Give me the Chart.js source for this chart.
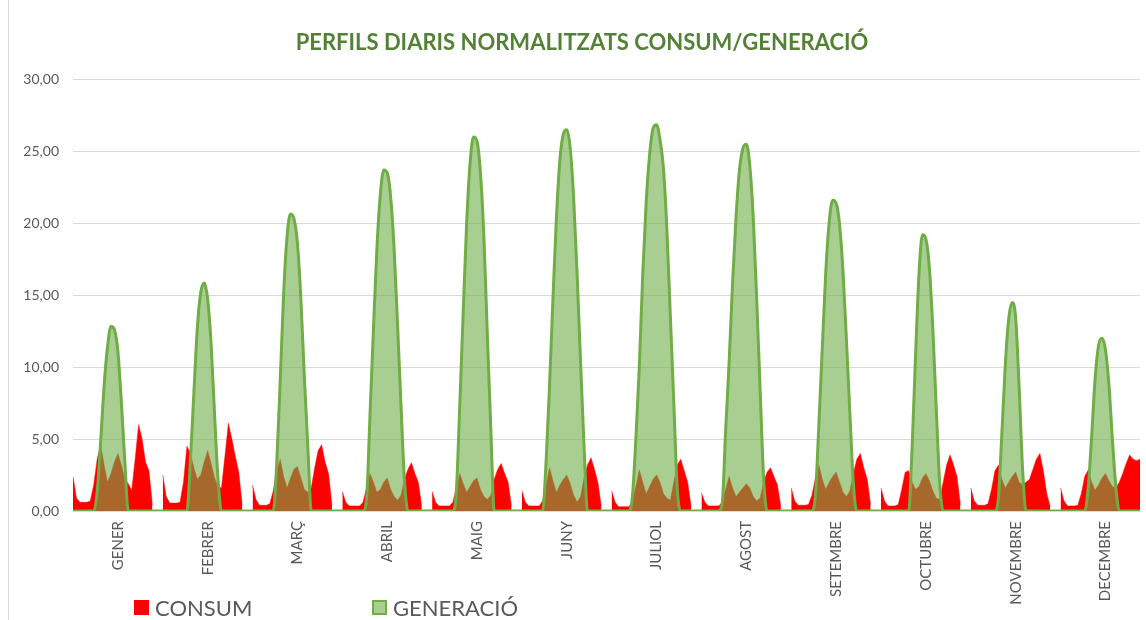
<!DOCTYPE html>
<html>
<head>
<meta charset="utf-8">
<script src="https://cdn.jsdelivr.net/npm/chart.js@4.4.1/dist/chart.umd.min.js"></script>
<style>
  html, body { margin: 0; padding: 0; background: #ffffff; }
  #wrap { position: relative; width: 1146px; height: 620px; overflow: hidden; background: #ffffff; }
  #c { position: absolute; left: 0; top: 0; }
  #frame { position: absolute; left: 8px; top: 0; width: 1px; height: 620px; background: #d9d9d9; }
  .lg-item { position: absolute; top: 595px; height: 24px; display: flex; align-items: center;
             font-family: Lato, "Open Sans", sans-serif; font-size: 22px; color: #595959; white-space: nowrap; }
  .lg-box { display: inline-block; box-sizing: border-box; width: 15px; height: 15px; margin-right: 6px; }
</style>
</head>
<body>
<div id="wrap">
  <canvas id="c" width="1146" height="620"></canvas>
  <div id="frame"></div>
  <div id="legend"></div>
</div>
<script>
// ---- categories / tick labels ----
const months = ["GENER","FEBRER","MARÇ","ABRIL","MAIG","JUNY","JULIOL","AGOST","SETEMBRE","OCTUBRE","NOVEMBRE","DECEMBRE"];
const hoursPerDay = 24;
const blankRowsBetweenMonths = 2;
const labelRow = 13;

// ---- CONSUM: normalized hourly profile per month (h0..h23) ----
const consumGener    = [2.4, 0.9, 0.6, 0.6, 0.6, 0.7, 1.8, 3.6, 4.6, 3.2, 2.0, 2.6, 3.4, 4.0, 3.2, 2.2, 1.9, 1.4, 3.6, 6.0, 5.0, 3.4, 2.8, 0.4];
const consumFebrer   = [2.5, 1.0, 0.55, 0.55, 0.55, 0.6, 2.0, 4.5, 4.0, 3.0, 2.2, 2.5, 3.4, 4.2, 3.3, 2.3, 1.7, 1.6, 3.8, 6.1, 5.0, 3.8, 2.7, 0.4];
const consumMarc     = [1.8, 0.8, 0.4, 0.4, 0.4, 0.5, 1.4, 2.8, 3.6, 2.4, 1.6, 2.3, 2.9, 3.1, 2.3, 1.5, 1.3, 1.6, 3.0, 4.2, 4.6, 3.4, 2.6, 0.4];
const consumAbril    = [1.35, 0.6, 0.35, 0.35, 0.35, 0.35, 0.6, 1.6, 2.6, 2.0, 1.3, 1.5, 2.0, 2.3, 1.5, 1.0, 0.75, 1.1, 2.2, 2.9, 3.35, 2.6, 2.0, 0.3];
const consumMaig     = [1.35, 0.6, 0.35, 0.35, 0.35, 0.35, 0.6, 1.6, 2.6, 1.9, 1.3, 1.7, 2.1, 2.3, 1.5, 1.0, 0.8, 1.1, 2.2, 2.9, 3.3, 2.6, 2.0, 0.3];
const consumJuny     = [1.4, 0.6, 0.35, 0.35, 0.35, 0.35, 0.7, 1.8, 3.0, 2.1, 1.3, 1.8, 2.2, 2.5, 1.9, 1.1, 0.6, 1.0, 2.3, 3.2, 3.7, 2.9, 2.0, 0.3];
const consumJuliol   = [1.4, 0.6, 0.3, 0.3, 0.3, 0.3, 0.7, 1.7, 2.85, 2.0, 1.2, 1.7, 2.2, 2.5, 2.0, 1.2, 0.9, 0.75, 2.0, 3.2, 3.6, 2.8, 2.0, 0.3];
const consumAgost    = [1.25, 0.6, 0.35, 0.35, 0.35, 0.35, 0.6, 1.5, 2.4, 1.6, 1.0, 1.3, 1.6, 1.9, 1.6, 1.0, 0.7, 0.9, 2.0, 2.7, 3.0, 2.4, 1.8, 0.3];
const consumSetembre = [1.6, 0.7, 0.4, 0.4, 0.4, 0.45, 1.1, 2.3, 3.2, 2.2, 1.5, 2.0, 2.4, 2.7, 2.0, 1.3, 1.0, 1.4, 2.6, 3.6, 4.0, 3.0, 2.2, 0.4];
const consumOctubre  = [1.6, 0.7, 0.35, 0.35, 0.35, 0.45, 1.5, 2.7, 2.8, 2.0, 1.5, 1.7, 2.3, 2.6, 2.1, 1.4, 0.9, 0.8, 2.0, 3.2, 3.9, 3.2, 2.4, 0.4];
const consumNovembre = [1.6, 0.7, 0.4, 0.4, 0.4, 0.5, 1.5, 2.8, 3.2, 2.2, 1.6, 2.0, 2.4, 2.7, 2.0, 1.8, 2.0, 2.2, 2.9, 3.6, 4.0, 2.8, 1.2, 0.3];
const consumDecembre = [1.6, 0.7, 0.35, 0.35, 0.35, 0.4, 1.2, 2.4, 2.85, 2.0, 1.45, 1.8, 2.3, 2.6, 2.1, 1.7, 1.6, 2.0, 2.6, 3.3, 3.9, 3.6, 3.5, 3.6];

// ---- GENERACIÓ: normalized hourly profile per month (h0..h23) ----
const genGener    = [0, 0, 0, 0, 0, 0, 0, 1.3, 4.8, 8.7, 11.4, 12.85, 12.6, 11.1, 7.6, 3.5, 0, 0, 0, 0, 0, 0, 0, 0];
const genFebrer   = [0, 0, 0, 0, 0, 0, 0, 0, 3.5, 8.2, 12.7, 15.2, 15.85, 14.7, 11.6, 6.7, 2.2, 0, 0, 0, 0, 0, 0, 0];
const genMarc     = [0, 0, 0, 0, 0, 0, 0, 3.3, 9.0, 15.1, 19.1, 20.65, 20.3, 18.6, 14.7, 9.3, 4.5, 0, 0, 0, 0, 0, 0, 0];
const genAbril    = [0, 0, 0, 0, 0, 0, 0, 0.8, 6.6, 12.6, 18.2, 22.0, 23.7, 23.5, 21.8, 18.2, 12.9, 7.3, 2.1, 0, 0, 0, 0, 0];
const genMaig     = [0, 0, 0, 0, 0, 0, 0, 1.3, 7.3, 13.8, 20.0, 24.2, 26.0, 25.7, 23.5, 19.0, 12.2, 5.7, 0, 0, 0, 0, 0, 0];
const genJuny     = [0, 0, 0, 0, 0, 0, 0, 3.4, 8.7, 14.8, 20.4, 24.4, 26.2, 26.5, 25.2, 21.7, 16.4, 10.3, 4.5, 0, 0, 0, 0, 0];
const genJuliol   = [0, 0, 0, 0, 0, 0, 1.0, 5.0, 10.0, 16.5, 21.5, 24.8, 26.6, 26.85, 25.8, 23.8, 19.5, 13.5, 7.5, 1.5, 0, 0, 0, 0];
const genAgost    = [0, 0, 0, 0, 0, 0, 0.5, 5.6, 10.3, 15.8, 20.4, 23.7, 25.2, 25.5, 24.0, 20.4, 14.7, 8.4, 2.3, 0, 0, 0, 0, 0];
const genSetembre = [0, 0, 0, 0, 0, 0, 0, 1.1, 6.0, 11.4, 16.6, 20.1, 21.6, 21.4, 19.9, 16.6, 11.8, 6.7, 1.9, 0, 0, 0, 0, 0];
const genOctubre  = [0, 0, 0, 0, 0, 0, 0, 0, 0, 4.4, 10.8, 16.5, 19.2, 18.9, 16.9, 12.7, 7.1, 1.9, 0, 0, 0, 0, 0, 0];
const genNovembre = [0, 0, 0, 0, 0, 0, 0, 0, 0.9, 5.4, 10.2, 13.4, 14.5, 13.4, 8.6, 2.9, 0, 0, 0, 0, 0, 0, 0, 0];
const genDecembre = [0, 0, 0, 0, 0, 0, 0, 0, 1.6, 5.2, 9.2, 11.5, 12.0, 11.2, 8.8, 5.0, 1.7, 0, 0, 0, 0, 0, 0, 0];

const consumByMonth = [consumGener, consumFebrer, consumMarc, consumAbril, consumMaig, consumJuny,
                       consumJuliol, consumAgost, consumSetembre, consumOctubre, consumNovembre, consumDecembre];
const genByMonth = [genGener, genFebrer, genMarc, genAbril, genMaig, genJuny,
                    genJuliol, genAgost, genSetembre, genOctubre, genNovembre, genDecembre];

// ---- y tick values ----
const yMin = 0, yMax = 30, yStep = 5;

// ---- build the flat table the library needs (24 rows per month + blank rows between months) ----
const labels = [], consumData = [], genData = [];
months.forEach((m, mi) => {
  for (let h = 0; h < hoursPerDay; h++) {
    labels.push(h === labelRow ? m : '');
    consumData.push(consumByMonth[mi][h]);
    genData.push(genByMonth[mi][h]);
  }
  if (mi < months.length - 1) {
    for (let b = 0; b < blankRowsBetweenMonths; b++) {
      labels.push('');
      consumData.push(null);
      genData.push(0);
    }
  }
});

const FONT = 'Lato, "Open Sans", sans-serif';
const GREY = '#595959';

const chart = new Chart(document.getElementById('c'), {
  type: 'line',
  data: {
    labels: labels,
    datasets: [
      {
        label: 'CONSUM',
        data: consumData,
        order: 2,
        fill: 'origin',
        backgroundColor: '#FF0000',
        borderColor: '#FF0000',
        borderWidth: 0.5,
        pointRadius: 0,
        tension: 0,
        spanGaps: false
      },
      {
        label: 'GENERACIÓ',
        data: genData,
        order: 1,
        fill: 'origin',
        backgroundColor: 'rgba(112,173,71,0.6)',
        borderColor: '#70AD47',
        borderWidth: 3,
        pointRadius: 0,
        cubicInterpolationMode: 'monotone'
      }
    ]
  },
  options: {
    responsive: false,
    animation: false,
    devicePixelRatio: 1,
    layout: { padding: { left: 24, right: 6, top: 0, bottom: 0 } },
    plugins: {
      legend: { display: false },
      tooltip: { enabled: false },
      title: {
        display: true,
        text: 'PERFILS DIARIS NORMALITZATS CONSUM/GENERACIÓ',
        color: '#538135',
        font: { family: FONT, size: 22, weight: 'bold' },
        padding: { top: 30, bottom: 23 }
      }
    },
    scales: {
      x: {
        type: 'category',
        offset: false,
        grid: { display: false, drawTicks: false },
        border: { display: true, color: '#d9d9d9', width: 1 },
        ticks: {
          autoSkip: false,
          maxRotation: 90,
          minRotation: 90,
          padding: 10,
          color: GREY,
          font: { family: FONT, size: 15 }
        },
        afterFit: (s) => { s.height = 109; s.paddingLeft = 0; s.paddingRight = 0; }
      },
      y: {
        min: yMin,
        max: yMax,
        grid: { color: '#d9d9d9', lineWidth: 1, drawTicks: false },
        border: { display: false },
        ticks: {
          stepSize: yStep,
          padding: 14,
          color: GREY,
          font: { family: FONT, size: 14 },
          callback: (v) => Number(v).toFixed(2).replace('.', ',')
        },
        afterFit: (s) => { s.width = 49; }
      }
    }
  }
});

// ---- HTML legend built from the chart's datasets ----
const legendPos = [134, 372];
const legendEl = document.getElementById('legend');
chart.data.datasets.forEach((ds, i) => {
  const item = document.createElement('div');
  item.className = 'lg-item';
  item.style.left = legendPos[i] + 'px';
  const box = document.createElement('span');
  box.className = 'lg-box';
  box.style.background = ds.backgroundColor;
  if (i === 1) box.style.border = '2px solid ' + ds.borderColor;
  const txt = document.createElement('span');
  txt.textContent = ds.label;
  item.appendChild(box);
  item.appendChild(txt);
  legendEl.appendChild(item);
});
</script>
</body>
</html>
